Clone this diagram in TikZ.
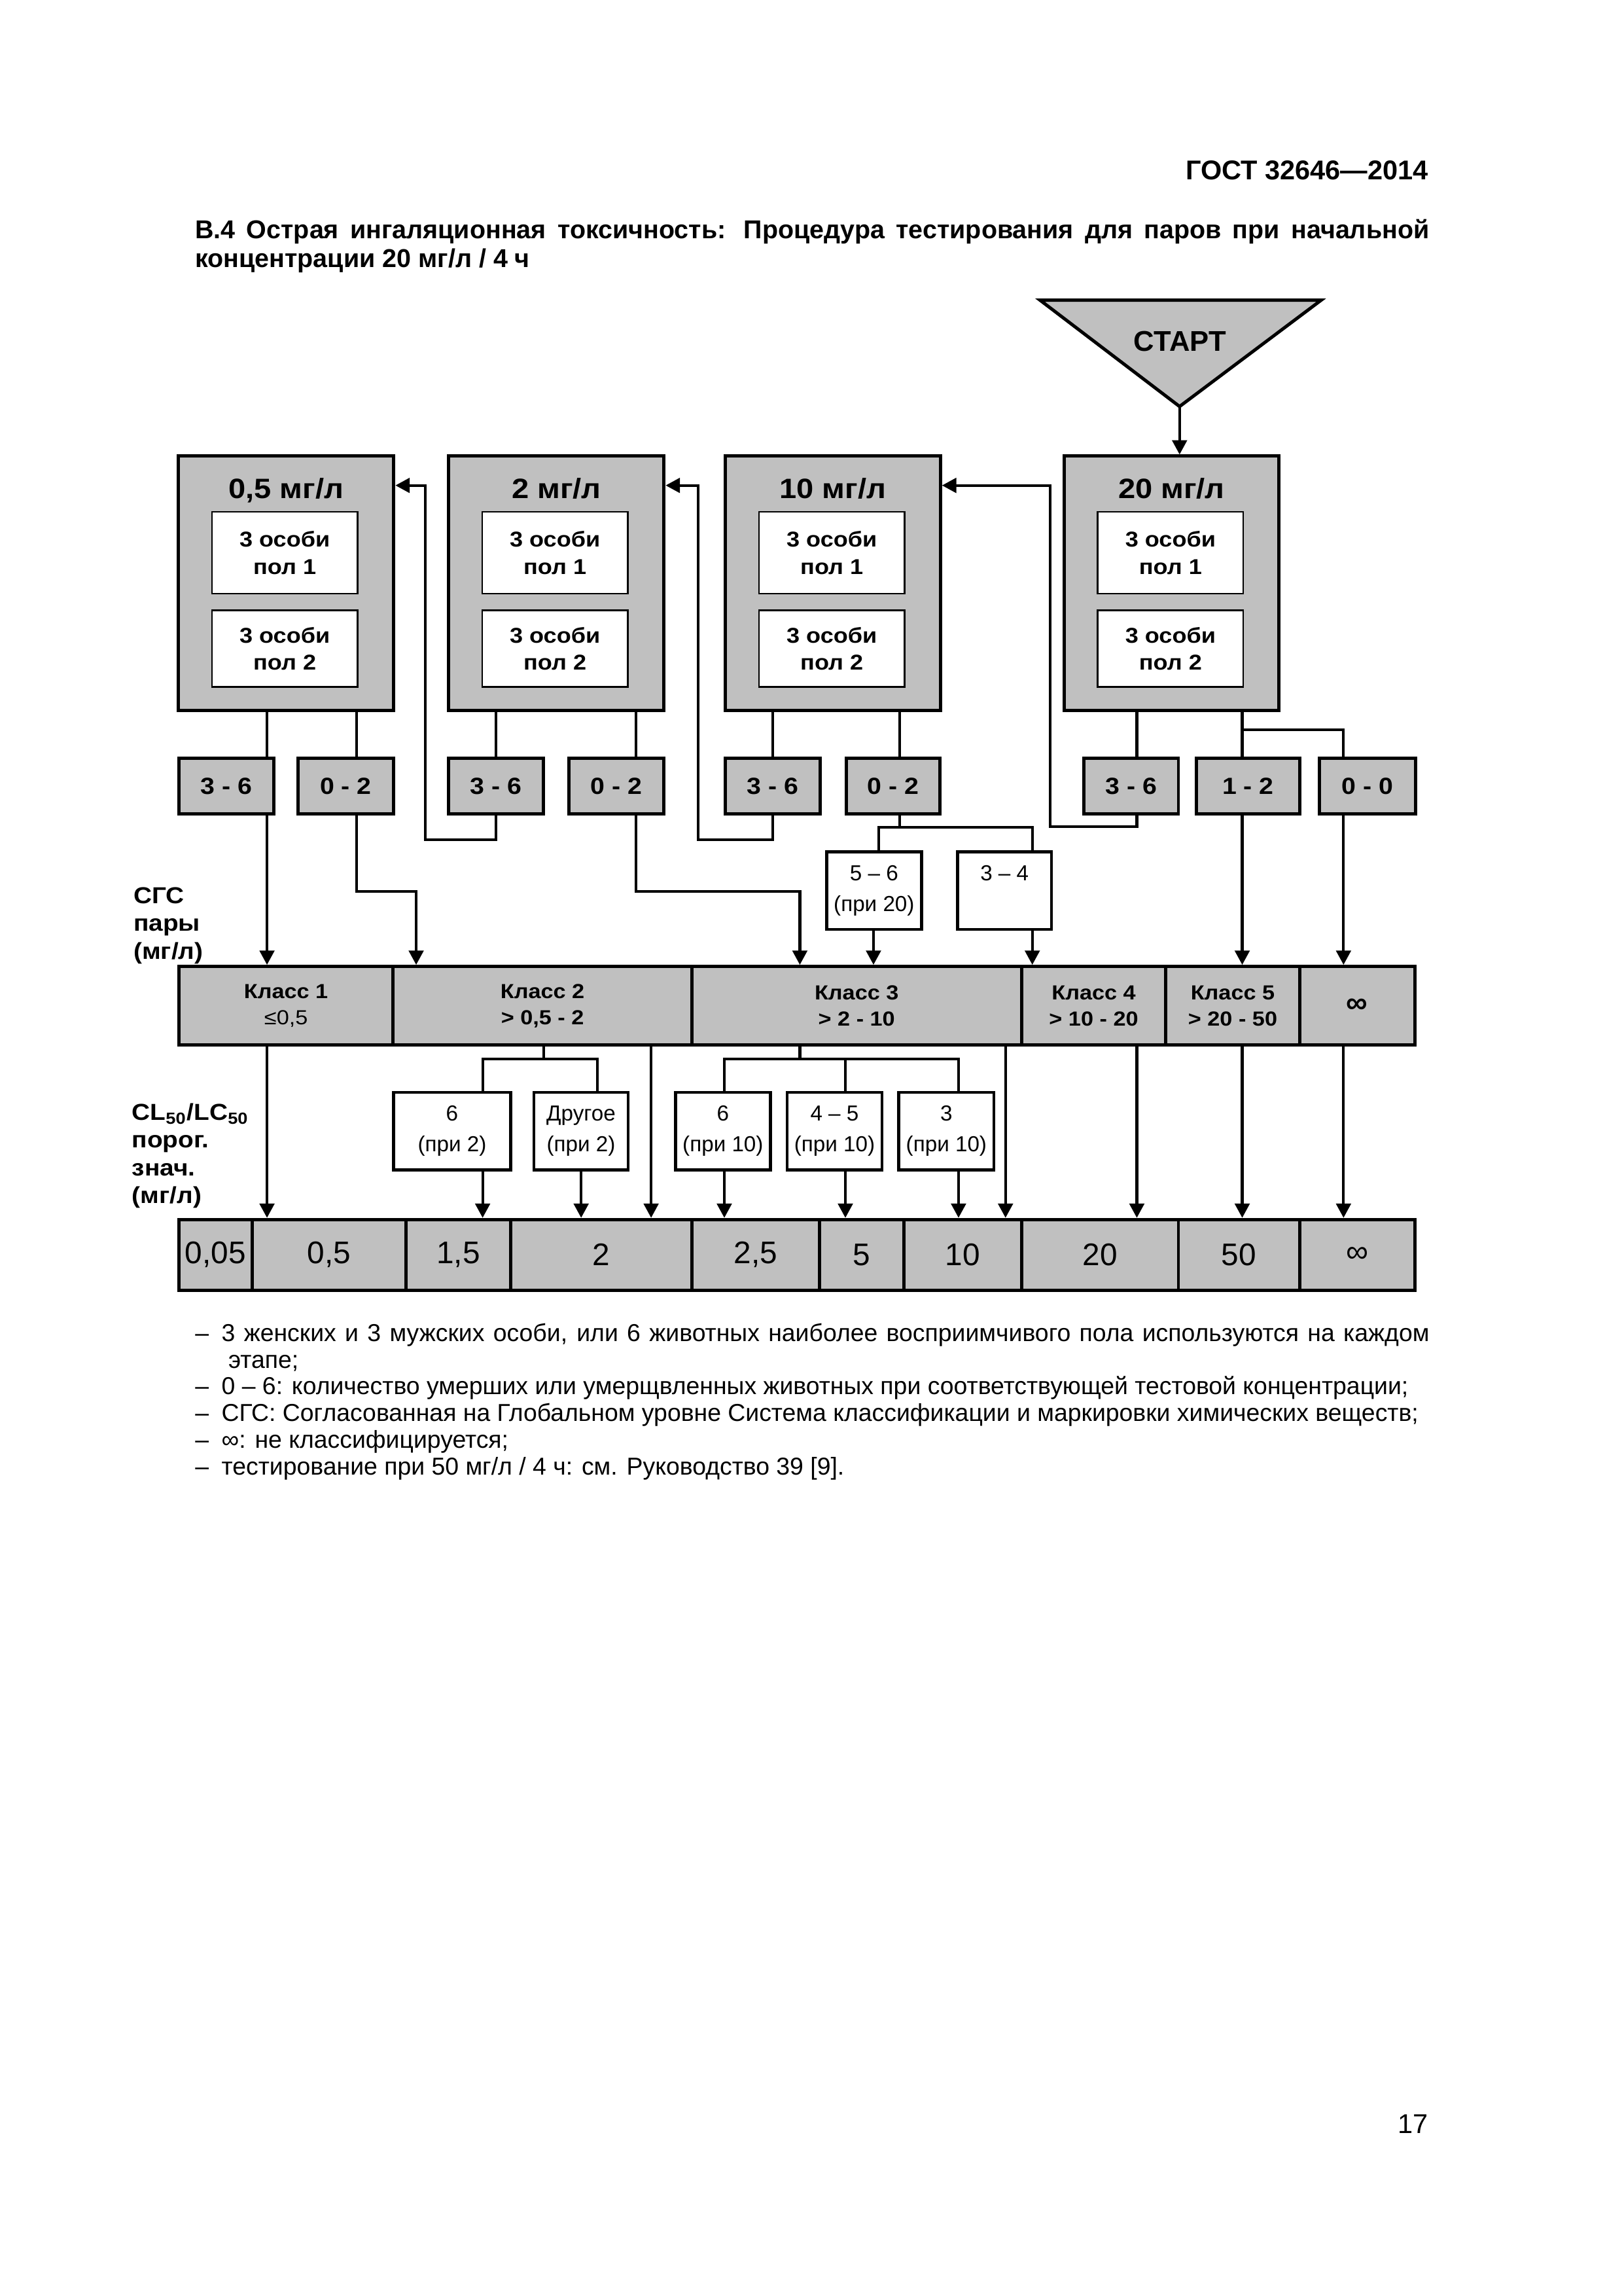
\documentclass[tikz,border=0pt]{standalone}
\usepackage{fontspec}
\setmainfont{Liberation Sans}
\newfontfamily\widefont[FakeStretch=1.1]{Liberation Sans}
\newfontfamily\cntfont[FakeStretch=1.1]{Liberation Sans}
\usetikzlibrary{arrows.meta,calc}
\definecolor{boxgray}{RGB}{192,192,192}
\newcommand{\pxu}{0.18936mm}

\begin{document}
\begin{tikzpicture}[x=\pxu, y=-\pxu,
    sz/.style 2 args={minimum width=#1*\pxu, minimum height=#2*\pxu},
    bigbox/.style={draw, line width=1.2pt, fill=boxgray, inner sep=0pt, sz={147}{173.5}},
    conc/.style={inner sep=0pt, anchor=base, font=\widefont\bfseries\fontsize{10.3}{12}\selectfont},
    animals/.style={draw, line width=0.6pt, fill=white, inner sep=0pt, align=center, font=\widefont\bfseries\fontsize{7.9}{9.97}\selectfont},
    deaths/.style={draw, line width=1.2pt, fill=boxgray, inner sep=0pt, minimum height=37.9*\pxu, font=\cntfont\bfseries\fontsize{8.6}{10}\selectfont},
    gclass/.style={draw, line width=1.2pt, fill=boxgray, inner sep=0pt, minimum height=53.7*\pxu, align=center, font=\widefont\bfseries\fontsize{7.5}{9.6}\selectfont},
    outcome/.style={draw, line width=1.1pt, fill=white, inner sep=0pt, minimum height=53*\pxu, align=center, font=\fontsize{8}{11.2}\selectfont},
    lcval/.style={draw, line width=1.2pt, fill=boxgray, inner sep=0pt, minimum height=48.2*\pxu, font=\fontsize{11.5}{13}\selectfont},
    axislab/.style={inner sep=0pt, anchor=north west, align=left, font=\widefont\bfseries\fontsize{8.5}{10.2}\selectfont},
    link/.style={line width=1pt},
    arr/.style={line width=1pt, -{Triangle[length=1.85mm,width=1.9mm]}}]

\path[fill=white] (0,0) rectangle (1109,1568);

\draw (976,122.5) node[anchor=base east, inner sep=0pt, font=\bfseries\fontsize{10}{12}\selectfont] (gost) {ГОСТ 32646—2014};
\draw (133,149.4) node[anchor=north west, inner sep=0pt, text width=843*\pxu, align=justify, font=\bfseries\fontsize{9.5}{10.5}\selectfont] (caption)
    {\rule{0pt}{7pt}В.4 Острая ингаляционная токсичность: Процедура тестирования для паров при начальной\linebreak концентрации 20 мг/л / 4 ч};

\draw[line width=1.2pt, fill=boxgray] (710.5,205) -- (902.5,205) -- (805.8,277.6) coordinate (apex) -- cycle;
\draw (806,239.6) node[anchor=base, inner sep=0pt, font=\bfseries\fontsize{10.5}{12}\selectfont] (start) {СТАРТ};

\draw (195.5,398.25) node[bigbox] (b05) {};
\draw (380.1,398.25) node[bigbox] (b2) {};
\draw (568.9,398.25) node[bigbox] (b10) {};
\draw (800.3,398.25) node[bigbox] (b20) {};
\draw (195.5,340.5) node[conc] (t05) {0,5 мг/л};
\draw (380.1,340.5) node[conc] (t2) {2 мг/л};
\draw (568.9,340.5) node[conc] (t10) {10 мг/л};
\draw (800.3,340.5) node[conc] (t20) {20 мг/л};
\draw (194.5,377.5) node[animals, sz={99.5}{56}] (i05a) {3 особи\\пол 1};
\draw (194.5,442.9) node[animals, sz={99.5}{52.3}] (i05b) {3 особи\\пол 2};
\draw (379.1,377.5) node[animals, sz={99.5}{56}] (i2a) {3 особи\\пол 1};
\draw (379.1,442.9) node[animals, sz={99.5}{52.3}] (i2b) {3 особи\\пол 2};
\draw (568.2,377.5) node[animals, sz={99.5}{56}] (i10a) {3 особи\\пол 1};
\draw (568.2,442.9) node[animals, sz={99.5}{52.3}] (i10b) {3 особи\\пол 2};
\draw (799.6,377.5) node[animals, sz={99.5}{56}] (i20a) {3 особи\\пол 1};
\draw (799.6,442.9) node[animals, sz={99.5}{52.3}] (i20b) {3 особи\\пол 2};

\draw (154.6,536.75) node[deaths, minimum width=64.8*\pxu] (c1) {3 - 6};
\draw (236.2,536.75) node[deaths, minimum width=65*\pxu] (c2) {0 - 2};
\draw (338.8,536.75) node[deaths, minimum width=65*\pxu] (c3) {3 - 6};
\draw (421,536.75) node[deaths, minimum width=65*\pxu] (c4) {0 - 2};
\draw (527.8,536.75) node[deaths, minimum width=65*\pxu] (c5) {3 - 6};
\draw (610,536.75) node[deaths, minimum width=64*\pxu] (c6) {0 - 2};
\draw (772.8,536.75) node[deaths, minimum width=64.4*\pxu] (c7) {3 - 6};
\draw (852.6,536.75) node[deaths, minimum width=71*\pxu] (c8) {1 - 2};
\draw (934.2,536.75) node[deaths, minimum width=65.6*\pxu] (c9) {0 - 0};

\draw (597.1,608.25) node[outcome, minimum width=64.8*\pxu] (r56) {5 – 6\\(при 20)};
\draw (686.2,608.25) node[outcome, minimum width=64.2*\pxu] (r34) {3 – 4\\\phantom{(при 20)}};

\draw (90.9,605.6) node[axislab] (ghs) {\rule{0pt}{6pt}СГС\\пары\\(мг/л)};
\draw (89.8,753.2) node[axislab] (lcax) {\rule{0pt}{6pt}CL\textsubscript{50}/LC\textsubscript{50}\\порог.\\знач.\\(мг/л)};

\draw (195.4,686.85) node[gclass, minimum width=146.4*\pxu] (k1) {Класс 1\\{\mdseries ≤0,5}};
\draw (370.6,686.85) node[gclass, minimum width=204*\pxu] (k2) {Класс 2\\> 0,5 - 2};
\draw (585.2,686.85) node[gclass, minimum width=225.2*\pxu] (k3) {Класс 3\\> 2 - 10};
\draw (747.15,686.85) node[gclass, minimum width=98.7*\pxu] (k4) {Класс 4\\> 10 - 20};
\draw (842.1,686.85) node[gclass, minimum width=91.2*\pxu] (k5) {Класс 5\\> 20 - 50};
\draw (927.1,686.85) node[gclass, minimum width=78.8*\pxu, font=\bfseries\fontsize{11}{12}\selectfont] (k6) {∞};

\draw (308.85,772.4) node[outcome, minimum width=80.1*\pxu] (u1) {6\\(при 2)};
\draw (396.9,772.4) node[outcome, minimum width=64.2*\pxu] (u2) {Другое\\(при 2)};
\draw (493.85,772.4) node[outcome, minimum width=64.9*\pxu] (u3) {6\\(при 10)};
\draw (570.1,772.4) node[outcome, minimum width=64.8*\pxu] (u4) {4 – 5\\(при 10)};
\draw (646.5,772.4) node[outcome, minimum width=65*\pxu] (u5) {3\\(при 10)};

\draw (147.25,856.9) node[lcval, minimum width=50.1*\pxu] (v1) {0,05};
\draw (224.85,856.9) node[lcval, minimum width=105.1*\pxu] (v2) {0,5};
\draw (313.15,856.9) node[lcval, minimum width=71.5*\pxu] (v3) {1,5};
\draw (410.75,856.9) node[lcval, minimum width=123.7*\pxu] (v4) {2};
\draw (516.2,856.9) node[lcval, minimum width=87.2*\pxu] (v5) {2,5};
\draw (588.55,856.9) node[lcval, minimum width=57.5*\pxu] (v6) {5};
\draw (657.55,856.9) node[lcval, minimum width=80.5*\pxu] (v7) {10};
\draw (751.4,856.9) node[lcval, minimum width=107.2*\pxu] (v8) {20};
\draw (846.35,856.9) node[lcval, minimum width=82.7*\pxu] (v9) {50};
\draw (927.1,856.9) node[lcval, minimum width=78.8*\pxu] (v10) {∞};

\coordinate (ya) at (0,331.5);
\coordinate (xa) at (182.4,0);
\coordinate (xb) at (243.7,0);
\coordinate (xd) at (434.3,0);
\coordinate (xe) at (614.4,0);
\coordinate (xf) at (776.6,0);
\coordinate (xg) at (848.6,0);
\coordinate (xh) at (917.8,0);
\coordinate (xr) at (596.7,0);
\coordinate (xu) at (397,0);
\coordinate (xk) at (444.8,0);
\coordinate (xl) at (686.9,0);
\coordinate (p1) at (284.3,608.8);
\coordinate (p2) at (546.4,608.8);
\coordinate (q1) at (290.5,573.5);
\coordinate (q2) at (477.1,573.5);
\coordinate (q3) at (717.5,564.6);
\coordinate (s1) at (614.4,565);
\coordinate (s2) at (600.2,565);
\coordinate (s3) at (705.2,565);
\coordinate (t1) at (848.6,498.4);
\coordinate (m1) at (371.5,723.2);
\coordinate (m2) at (329.7,723.2);
\coordinate (m3) at (408,723.2);
\coordinate (n1) at (546.4,723.2);
\coordinate (n2) at (494.8,723.2);
\coordinate (n3) at (577.5,723.2);
\coordinate (n4) at (654.8,723.2);

\draw[arr] (apex) -- (b20.north -| apex);
\draw[link] (b05.south -| xa) -- (c1.north -| xa);
\draw[arr] (c1.south -| xa) -- (k1.north -| xa);
\draw[link] (b05.south -| xb) -- (c2.north -| xb);
\draw[arr] (c2.south -| xb) |- (p1) -- (k2.north -| p1);
\draw[link] (b2.south -| c3) -- (c3.north);
\draw[arr] (c3.south) |- (q1) |- (b05.east |- ya);
\draw[link] (b2.south -| xd) -- (c4.north -| xd);
\draw[arr] (c4.south -| xd) |- (p2) -- (k3.north -| p2);
\draw[link] (b10.south -| c5) -- (c5.north);
\draw[arr] (c5.south) |- (q2) |- (b2.east |- ya);
\draw[link] (b10.south -| xe) -- (c6.north -| xe);
\draw[link] (c6.south -| xe) -- (s1);
\draw[link] (r56.north -| s2) -- (s2) -- (s3) -- (r34.north -| s3);
\draw[arr] (r56.south -| xr) -- (k3.north -| xr);
\draw[arr] (r34.south -| s3) -- (k4.north -| s3);
\draw[link] (b20.south -| xf) -- (c7.north -| xf);
\draw[arr] (c7.south -| xf) |- (q3) |- (b10.east |- ya);
\draw[link] (b20.south -| xg) -- (c8.north -| xg);
\draw[arr] (c8.south -| xg) -- (k5.north -| xg);
\draw[link] (t1) -| (c9.north -| xh);
\draw[arr] (c9.south -| xh) -- (k6.north -| xh);

\draw[arr] (k1.south -| xa) -- (v2.north -| xa);
\draw[link] (k2.south -| m1) -- (m1);
\draw[link] (u1.north -| m2) -- (m2) -- (m3) -- (u2.north -| m3);
\draw[arr] (u1.south -| m2) -- (v3.north -| m2);
\draw[arr] (u2.south -| xu) -- (v4.north -| xu);
\draw[arr] (k2.south -| xk) -- (v4.north -| xk);
\draw[link] (k3.south -| n1) -- (n1);
\draw[link] (u3.north -| n2) -- (n2) -- (n4) -- (u5.north -| n4);
\draw[link] (n3) -- (u4.north -| n3);
\draw[arr] (u3.south -| n2) -- (v5.north -| n2);
\draw[arr] (u4.south -| n3) -- (v6.north -| n3);
\draw[arr] (u5.south -| n4) -- (v7.north -| n4);
\draw[arr] (k3.south -| xl) -- (v7.north -| xl);
\draw[arr] (k4.south -| xf) -- (v8.north -| xf);
\draw[arr] (k5.south -| xg) -- (v9.north -| xg);
\draw[arr] (k6.south -| xh) -- (v10.north -| xh);

\draw (133,902.6) node[anchor=north west, inner sep=0pt, text width=843*\pxu, align=justify, font=\fontsize{9}{9.84}\selectfont] (notes)
    {\parindent=0pt
     \hangindent=4.3mm\hangafter=1\rule{0pt}{7pt}\makebox[3.41mm][l]{–}3 женских и 3 мужских особи, или 6 животных наиболее восприимчивого пола используются на каждом\linebreak этапе;\par
     \mbox{\makebox[3.41mm][l]{–}0 – 6: количество умерших или умерщвленных животных при соответствующей тестовой концентрации;}\par
     \mbox{\makebox[3.41mm][l]{–}СГС: Согласованная на Глобальном уровне Система классификации и маркировки химических веществ;}\par
     \mbox{\makebox[3.41mm][l]{–}∞: не классифицируется;}\par
     \mbox{\makebox[3.41mm][l]{–}тестирование при 50 мг/л / 4 ч: см. Руководство 39 [9].}\par};

\draw (976,1457) node[anchor=base east, inner sep=0pt, font=\fontsize{10}{12}\selectfont] (pageno) {17};
\end{tikzpicture}
\end{document}
